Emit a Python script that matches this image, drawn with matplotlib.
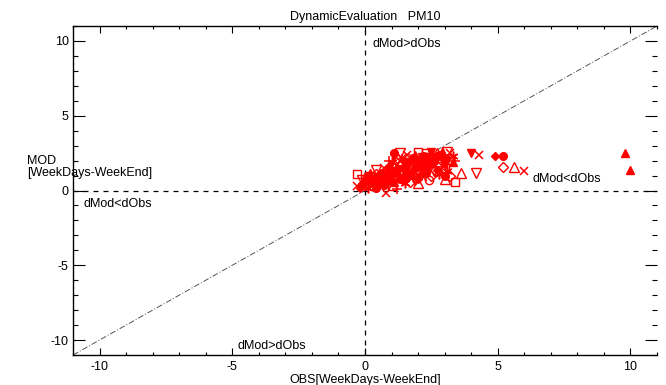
import matplotlib
matplotlib.use("Agg")
import matplotlib.pyplot as plt
from matplotlib.ticker import MultipleLocator

plt.rcParams['font.family'] = ['Liberation Sans', 'DejaVu Sans']
plt.rcParams['axes.unicode_minus'] = False

# obs / mod pairs, grouped by marker
circ_x = [0.1, 0.5, 1.0, 1.5, 1.8, 2.2, 2.6, 3.0, 5.2, 1.3, 0.7, 2.0, -0.1, 1.1, 2.8, 1.0, 1.6, 2.3, 0.4, 1.9]
circ_y = [0.9, 1.0, 1.3, 1.6, 2.2, 2.3, 2.0, 1.0, 2.3, 0.8, 0.4, 1.8, 0.4, 2.5, 2.4, 0.6, 0.9, 1.2, 0.2, 1.5]
diam_x = [2.0, 4.9, 0.3, 1.2, 1.7, 2.4, 3.1, 0.9, 1.5, 2.7, -0.2, 0.6]
diam_y = [0.8, 2.3, 0.6, 1.5, 1.1, 1.7, 2.2, 0.9, 2.0, 1.4, 0.2, 1.2]
tri_x = [9.8, 10.0, 0.4, 1.6, 2.3, 0.9, 2.9, 1.1, 3.3, 0.2, 1.9]
tri_y = [2.5, 1.4, 0.8, 1.4, 2.1, 1.7, 2.6, 0.6, 1.9, 1.2, 2.4]
dtri_x = [4.0, 1.1, 0.8, 2.5, 1.4, 0.0, 2.1, 3.0, 1.7, 0.5]
dtri_y = [2.5, 2.3, 1.1, 2.6, 0.7, 0.6, 1.5, 1.7, 1.9, 0.3]
sq_x = [0.1, 0.8, 1.4, 2.3, 1.9, 2.6, 1.2, 3.0]
sq_y = [0.6, 0.8, 1.5, 1.6, 2.1, 2.3, 1.2, 2.0]
cross_x = [4.3, 6.0, 0.8, 1.9, 2.6, 0.3, 1.3, 3.2, 0.7, 2.2, 1.6, -0.3]
cross_y = [2.4, 1.3, -0.2, 1.2, 1.6, 0.4, 2.0, 2.5, 1.5, 0.9, 2.4, 0.3]
ast_x = [2.8, 1.5, 2.1, 0.6, 3.1, 1.0, 2.4, 0.1, 1.8, 3.3]
ast_y = [1.1, 0.5, 2.0, 0.8, 1.3, 1.9, 2.4, 0.2, 0.9, 2.3]
plus_x = [1.2, 0.2, 1.0, 1.7, 2.5, 2.1, 0.7, 2.9, 1.4, 3.4, 0.9]
plus_y = [0.1, 0.5, 1.1, 1.7, 2.2, 1.1, 0.7, 1.6, 2.1, 2.0, 2.0]
osq_x = [3.4, -0.3, 1.3, 2.3, 0.5, 1.8, 2.7, 1.0, 3.0, 0.2, 2.0]
osq_y = [0.6, 1.1, 1.3, 2.5, 0.6, 1.6, 2.2, 0.3, 1.5, 1.0, 2.6]
odiam_x = [2.5, 5.2, 0.4, 1.4, 2.2, 1.7, 2.9, 0.8, 3.2, 1.2]
odiam_y = [1.0, 1.6, 1.1, 1.8, 1.3, 0.6, 2.0, 1.3, 1.0, 2.2]
otri_x = [3.6, 5.6, 0.6, 1.5, 2.4, 2.0, 1.1, 2.7, 0.0, 3.0]
otri_y = [1.2, 1.6, 1.0, 1.2, 1.9, 0.5, 1.6, 2.5, 0.9, 0.8]
odtri_x = [4.2, 1.9, 0.9, 1.3, 2.6, 0.4, 2.2, 1.6, 3.1, -0.1]
odtri_y = [1.2, 0.7, 0.5, 2.5, 1.3, 1.4, 2.2, 1.0, 2.6, 0.7]
ocirc_x = [0.5, 1.2, 2.0, 2.8, 1.6, 0.3, 2.4, 1.0]
ocirc_y = [0.5, 1.0, 1.4, 1.8, 2.2, 0.8, 0.7, 0.7]

lim = [-11, 11]

fig = plt.figure(figsize=(6.66, 3.85), dpi=100)
ax = fig.add_axes([73/666, 1-355/385, 584/666, 329/385])

ax.plot(lim, lim, color='#555555', lw=0.7, linestyle=(0, (6, 2, 1, 2)))
ax.axhline(0, color='black', lw=0.9, linestyle=(0, (4, 4)))
ax.axvline(0, color='black', lw=0.9, linestyle=(0, (4, 4)))

filled = [(circ_x, circ_y, 'o', 5.5), (diam_x, diam_y, 'D', 4), (tri_x, tri_y, '^', 5.5),
          (dtri_x, dtri_y, 'v', 5.5), (sq_x, sq_y, 's', 4.5)]
for xs, ys, m, s in filled:
    ax.plot(xs, ys, m, color='red', ms=s, mec='red')
lines_m = [(cross_x, cross_y, 'x', 6), (ast_x, ast_y, (6, 2, 0), 7), (plus_x, plus_y, '+', 7)]
for xs, ys, m, s in lines_m:
    ax.plot(xs, ys, linestyle='none', marker=m, color='red', ms=s, mew=1.1)
hollow = [(osq_x, osq_y, 's', 6), (odiam_x, odiam_y, 'D', 5.5), (otri_x, otri_y, '^', 6.5),
          (odtri_x, odtri_y, 'v', 6.5), (ocirc_x, ocirc_y, 'o', 6)]
for xs, ys, m, s in hollow:
    ax.plot(xs, ys, linestyle='none', marker=m, ms=s, mfc='none', mec='red', mew=1.0)

ax.set_xlim(lim)
ax.set_ylim(lim)
for a in (ax.xaxis, ax.yaxis):
    a.set_major_locator(MultipleLocator(5))
    a.set_minor_locator(MultipleLocator(1))
ax.spines['right'].set_visible(False)
for s in ax.spines.values():
    s.set_linewidth(1.0)

ax.tick_params(which='both', direction='in', top=True, right=True, labelsize=9, width=0.8)
ax.tick_params(axis='y', which='major', length=8.5, pad=3)
ax.tick_params(axis='y', which='minor', length=3.6)
ax.tick_params(axis='x', which='major', length=5, pad=4)
ax.tick_params(axis='x', which='minor', length=2.5)

ax.text(0.3, 9.8, 'dMod>dObs', fontsize=9, va='center')
ax.text(6.3, 0.8, 'dMod<dObs', fontsize=9, va='center')
ax.text(-10.6, -0.9, 'dMod<dObs', fontsize=9, va='center')
ax.text(-4.8, -10.4, 'dMod>dObs', fontsize=9, va='center')

ax.set_title('DynamicEvaluation   PM10', fontsize=9, pad=4)
ax.set_xlabel('OBS[WeekDays-WeekEnd]', fontsize=9, labelpad=1)
fig.text(27/666, 1-167/385, 'MOD\n[WeekDays-WeekEnd]', fontsize=9, ha='left', va='center',
         linespacing=1.1)

fig.savefig('out.png', dpi=100)
